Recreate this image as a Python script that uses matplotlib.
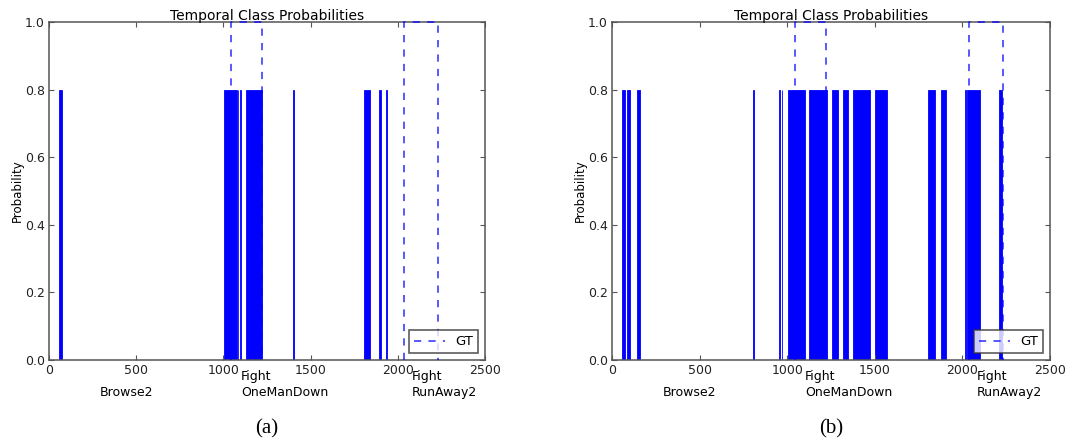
import matplotlib
matplotlib.use("Agg")
import matplotlib.pyplot as plt
import matplotlib.transforms as mtransforms

# intervalos (frame inicial, frame final) com probabilidade 0.8
seg_a_ini = [57, 1003, 1082, 1094, 1128, 1400, 1806, 1892, 1931]
seg_a_fim = [73, 1078, 1085, 1100, 1224, 1407, 1841, 1906, 1938]

seg_b_ini = [55, 84, 145, 806, 954, 969, 1003, 1126, 1254, 1320, 1377, 1502, 1806, 1880, 2016, 2025, 2210]
seg_b_fim = [74, 101, 158, 808, 958, 973, 1100, 1225, 1288, 1349, 1473, 1571, 1844, 1908, 2019, 2101, 2225]
prob = 0.8

# ground truth (inicio, fim)
gt_ini = [1046, 2035]
gt_fim = [1224, 2231]

# rotulos das classes (linha de cima, linha de baixo)
rot_cima = ["", "Fight", "Fight"]
rot_baixo = ["Browse2", "OneManDown", "RunAway2"]
rotulos_x = [290, 1102, 2081]

fig = plt.figure(figsize=(10.68, 4.45), dpi=100)
ax_a = fig.add_axes([49 / 1068, 85 / 445, 436 / 1068, 338 / 445])
ax_b = fig.add_axes([612 / 1068, 85 / 445, 438 / 1068, 338 / 445])


def painel(ax, ini, fim, letra):
    larg = [f - i for i, f in zip(ini, fim)]
    ax.bar(ini, [prob] * len(ini), width=larg, align="edge", color="b",
           edgecolor="b", linewidth=0.6)
    for k, (g0, g1) in enumerate(zip(gt_ini, gt_fim)):
        ax.plot([g0, g0, g1, g1], [0, 1, 1, 0], "--", color="b", alpha=0.7,
                linewidth=1.3, dashes=(4, 4), clip_on=False, zorder=3,
                label="GT" if k == 0 else None)
    ax.set_xlim(0, 2500)
    ax.set_ylim(0, 1.0)
    ax.set_xticks([0, 500, 1000, 1500, 2000, 2500])
    ax.set_yticks([0.0, 0.2, 0.4, 0.6, 0.8, 1.0])
    ax.tick_params(direction="in", top=True, right=True, labelsize=9,
                   length=3.5, color="#555555", pad=3, labelcolor="#222222")
    for s in ax.spines.values():
        s.set_color("#555555")
        s.set_linewidth(1.1)
    ax.set_title("Temporal Class Probabilities", fontsize=10, pad=1.5)
    ax.set_ylabel("Probability", fontsize=8.5, labelpad=1)
    leg = ax.legend(loc="lower right", fontsize=9.5, fancybox=False,
                    handlelength=2.3, borderaxespad=0.5)
    leg.get_frame().set_edgecolor("#333333")
    leg.get_frame().set_linewidth(1.2)
    trans = mtransforms.blended_transform_factory(ax.transData, ax.transAxes)
    for x, t1, t2 in zip(rotulos_x, rot_cima, rot_baixo):
        if t1:
            ax.text(x, -0.03, t1, transform=trans, ha="left", va="top",
                    fontsize=9)
        ax.text(x, -0.078, t2, transform=trans, ha="left", va="top",
                fontsize=9)
    ax.text(0.5, -0.175, letra, transform=ax.transAxes, ha="center",
            va="top", fontsize=15, family="Liberation Serif")


painel(ax_a, seg_a_ini, seg_a_fim, "(a)")
painel(ax_b, seg_b_ini, seg_b_fim, "(b)")

fig.savefig("out.png", dpi=100)
